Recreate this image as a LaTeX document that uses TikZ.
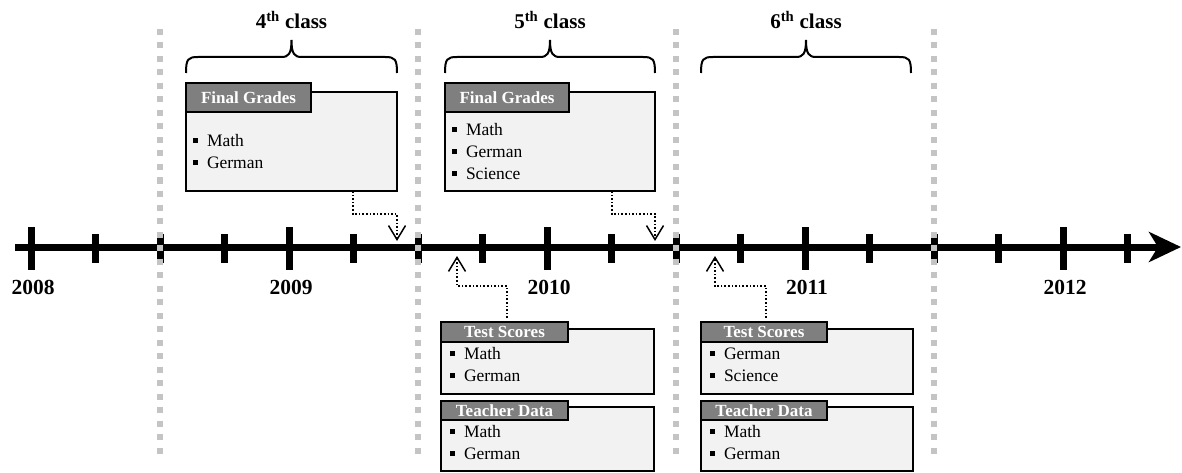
\documentclass[tikz,border=0pt]{standalone}
\usepackage{fontspec}
\setmainfont{Liberation Serif}
\usetikzlibrary{arrows.meta,positioning}
\definecolor{tabgray}{HTML}{7F7F7F}
\definecolor{boxgray}{HTML}{F2F2F2}
\definecolor{sepgray}{HTML}{C4C4C4}
\newcommand{\sqbullet}{\rule[3.3pt]{4.8pt}{4.8pt}\hspace{9pt}}

\begin{document}
\begin{tikzpicture}[x=1pt, y=-1pt,
  listbox/.style={draw, line width=2.5pt, fill=boxgray, anchor=north west, inner sep=0pt, outer sep=0pt},
  titletab/.style={draw, line width=2.5pt, fill=tabgray, text=white, anchor=north west, inner sep=0pt, outer sep=0pt,
    font=\bfseries\fontsize{17}{17}\selectfont},
  items/.style={anchor=west, align=left, inner sep=0pt, font=\fontsize{17.5}{22}\selectfont},
  flow/.style={dotted, line width=1.6pt, -{Straight Barb[length=14pt, width=17pt, line width=1.5pt]}},
  divider/.style={sepgray, line width=6pt, dash pattern=on 6pt off 7.5pt},
  year/.style={font=\bfseries\fontsize{21.5}{21.5}\selectfont}]
\useasboundingbox (0,0) rectangle (1182,473);

% 时间轴
\draw[line width=7pt, -{Stealth[length=32pt, width=30pt, inset=9pt]}] (15,247) -- (1181,247);
\foreach \k in {0,...,17}
  \draw[line width=7pt] ({31+64.5*\k},234) -- ++(0,29);
\foreach \y [count=\i from 0] in {2008,...,2012} {
  \draw[line width=7pt] ({31+258*\i},227) -- ++(0,43);
  \node[year] (y\y) at ({33+258*\i},287) {\y};
}

% 学年分隔线
\foreach \x in {160,418,676,934}
  \draw[divider] (\x,29) -- (\x,456);

% 大括号及年级
\foreach \l/\r/\n in {186/397/4, 445/655/5, 701/911/6} {
  \pgfmathsetmacro{\m}{(\l+\r)/2}
  \draw[line width=2pt] (\l,73) .. controls (\l,59) and (\l+2,57) .. (\l+12,57) -- (\m-10,57)
    .. controls (\m-3,57) and (\m,54) .. (\m,40) .. controls (\m,54) and (\m+3,57) .. (\m+10,57)
    -- (\r-12,57) .. controls (\r-2,57) and (\r,59) .. (\r,73);
  \node[font=\bfseries\fontsize{21}{21}\selectfont] (c\n) at (\m,20) {\n\textsuperscript{th} class};
}

% Final Grades
\node[listbox, minimum width=211pt, minimum height=99pt] (fg4) at (186,92) {};
\node[titletab, minimum width=125pt, minimum height=29pt] (fg4tab) at ([yshift=9pt]fg4.north west) {Final Grades};
\node[items] (fg4list) at ([xshift=7pt, yshift=-10pt]fg4.west) {\sqbullet Math\\\sqbullet German};

\node[listbox, minimum width=210pt, minimum height=99pt] (fg5) at (445,92) {};
\node[titletab, minimum width=124pt, minimum height=29pt] (fg5tab) at ([yshift=9pt]fg5.north west) {Final Grades};
\node[items] (fg5list) at ([xshift=7pt, yshift=-10pt]fg5.west) {\sqbullet Math\\\sqbullet German\\\sqbullet Science};

% Test Scores / Teacher Data
\node[listbox, minimum width=213pt, minimum height=65pt] (ts10) at (441,329) {};
\node[titletab, minimum width=127pt, minimum height=20pt] (ts10tab) at ([yshift=7pt]ts10.north west) {Test Scores};
\node[items] (ts10list) at ([xshift=9pt, yshift=-3pt]ts10.west) {\sqbullet Math\\\sqbullet German};

\node[listbox, minimum width=213pt, minimum height=64pt] (td10) at (441,407) {};
\node[titletab, minimum width=127pt, minimum height=19pt] (td10tab) at ([yshift=6pt]td10.north west) {Teacher Data};
\node[items] (td10list) at ([xshift=9pt, yshift=-3.5pt]td10.west) {\sqbullet Math\\\sqbullet German};

\node[listbox, minimum width=212pt, minimum height=65pt] (ts11) at (701,329) {};
\node[titletab, minimum width=126pt, minimum height=20pt] (ts11tab) at ([yshift=7pt]ts11.north west) {Test Scores};
\node[items] (ts11list) at ([xshift=9pt, yshift=-3pt]ts11.west) {\sqbullet German\\\sqbullet Science};

\node[listbox, minimum width=212pt, minimum height=64pt] (td11) at (701,407) {};
\node[titletab, minimum width=126pt, minimum height=19pt] (td11tab) at ([yshift=6pt]td11.north west) {Teacher Data};
\node[items] (td11list) at ([xshift=9pt, yshift=-3.5pt]td11.west) {\sqbullet Math\\\sqbullet German};

% 箭头
\coordinate (e4) at (397,241);
\coordinate (e5) at (655,241);
\coordinate (s10) at (457,256);
\coordinate (s11) at (715,256);
\draw[flow] ([xshift=61.5pt]fg4.south) -- ++(0,23) -| (e4);
\draw[flow] ([xshift=62pt]fg5.south) -- ++(0,23) -| (e5);
\draw[flow] ([xshift=-40.5pt, yshift=11pt]ts10.north) -- ++(0,-32) -| (s10);
\draw[flow] ([xshift=-41pt, yshift=11pt]ts11.north) -- ++(0,-32) -| (s11);
\end{tikzpicture}
\end{document}
